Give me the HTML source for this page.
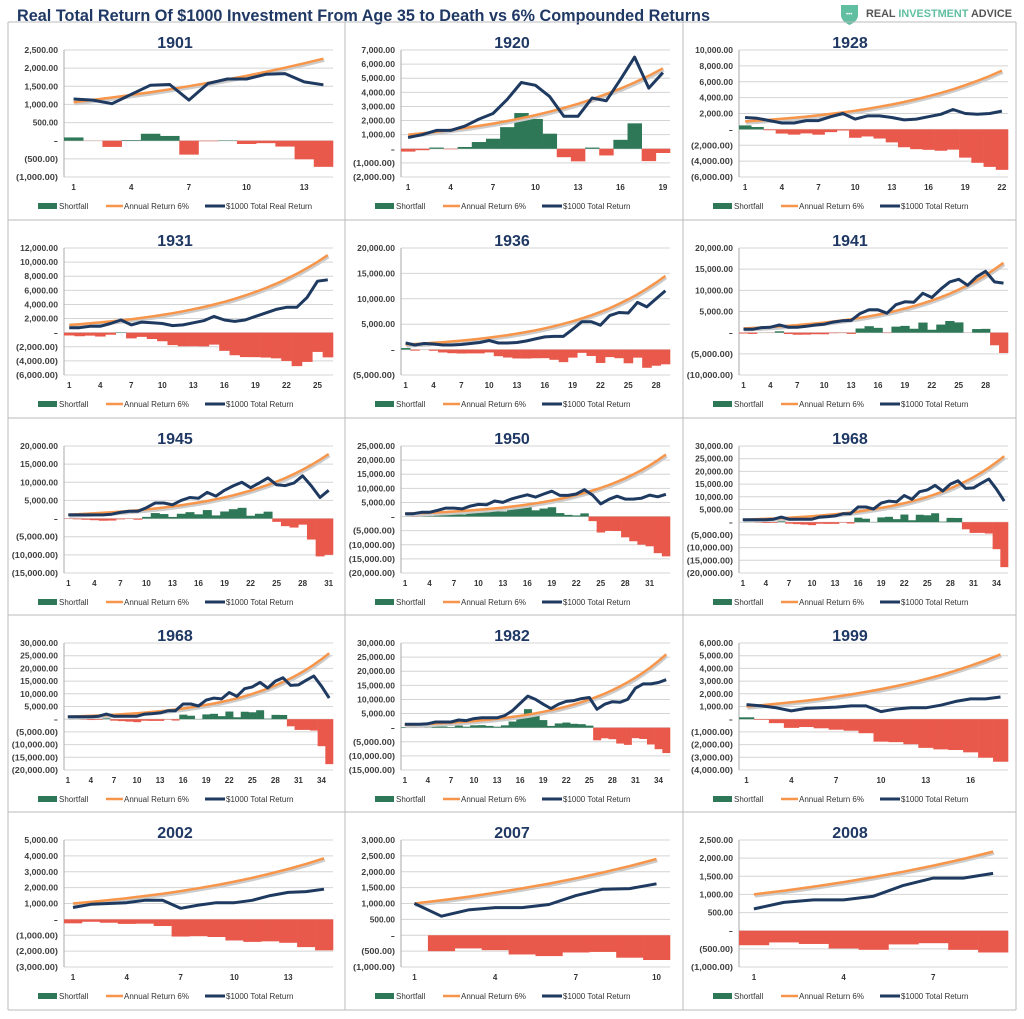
<!DOCTYPE html>
<html><head><meta charset="utf-8"><style>
html,body{margin:0;padding:0;background:#fff;}
svg text{font-family:"Liberation Sans",sans-serif;}
</style></head><body>
<svg id="s" width="1024" height="1014" xmlns="http://www.w3.org/2000/svg">
<rect width="1024" height="1014" fill="#fff"/>
<text x="17" y="21" font-size="17" font-weight="bold" fill="#1f3864" textLength="693" lengthAdjust="spacingAndGlyphs">Real Total Return Of $1000 Investment From Age 35 to Death vs 6% Compounded Returns</text>
<path d="M841 5 h17 v10 q0 6 -8.5 10 q-8.5 -4 -8.5 -10z" fill="#5fbfa0"/>
<text x="846" y="16" font-size="6" fill="#fff">•••</text>
<text x="866" y="17" font-size="11" font-weight="bold" fill="#555" textLength="146" lengthAdjust="spacingAndGlyphs">REAL <tspan fill="#5fbfa0">INVESTMENT</tspan> ADVICE</text>
<g id="g"></g>
</svg>
<script>
var C=[
["1901",-1000,2500,500,1060,2260,[1150,1120,1020,1280,1530,1550,1120,1580,1700,1700,1830,1850,1620,1540],1],
["1920",-2000,7000,1000,1000,5700,[800,1000,1300,1300,1600,2100,2500,3500,4700,4500,3700,2300,2300,3600,3400,4900,6500,4300,5400]],
["1928",-6000,10000,2000,1000,7400,[1500,1400,1100,800,800,1100,1100,1600,2000,1300,1700,1700,1500,1200,1300,1600,1900,2500,2000,1900,2000,2300]],
["1931",-6000,12000,2000,1100,11000,[700,700,900,900,1300,1800,1100,1500,1400,1300,1000,1100,1400,1700,2300,1800,1600,1800,2300,2800,3300,3600,3600,5000,7300,7500]],
["1936",-5000,20000,5000,1000,14500,[1300,900,1200,1100,900,900,1000,1200,1400,1800,1300,1300,1400,1700,2100,2500,2600,2600,4000,5500,5500,4800,6700,7300,7200,9300,8400,10000,11600]],
["1941",-10000,20000,5000,1000,16500,[800,800,1200,1300,1800,1300,1300,1500,1800,2000,2500,2800,2900,4500,5400,5400,4600,6600,7300,7200,9300,8300,10300,12000,12600,11200,13200,14500,12000,11700]],
["1945",-15000,20000,5000,1100,17800,[1000,1000,1000,1000,1000,1200,1700,2000,2000,3000,4300,4300,3800,5000,5800,5600,7200,6200,7800,9000,10000,8500,9800,11200,9300,9100,9800,11800,9000,5800,7800]],
["1950",-20000,25000,5000,1000,22000,[1000,1000,1500,1500,2200,3000,3000,2700,3700,4300,4200,5500,5000,6200,7000,7700,6900,8000,9000,7500,7500,8000,9500,7600,4500,6100,7200,6200,6200,6500,7600,7000,7900]],
["1968",-20000,30000,5000,1000,26000,[1000,1000,1000,1000,1200,2000,1200,1200,1200,1200,2000,2200,2500,3300,3300,6000,6000,5200,7500,8300,8000,10500,9000,12000,12700,14500,12300,15000,16300,13300,13500,15300,17000,13000,8300]],
["1968",-20000,30000,5000,1000,26000,[1000,1000,1000,1000,1200,2000,1200,1200,1200,1200,2000,2200,2500,3300,3300,6000,6000,5200,7500,8300,8000,10500,9000,12000,12700,14500,12300,15000,16300,13300,13500,15300,17000,13000,8300]],
["1982",-15000,30000,5000,1000,26000,[1200,1200,1200,1400,2000,2000,2000,2700,2500,3200,3500,3500,3500,4300,6000,8600,11200,10000,8300,6800,8300,9300,9600,10300,10700,6500,8300,9200,9000,10000,14000,15500,15500,16000,17000]],
["1999",-4000,6000,1000,1000,5100,[1150,1050,900,650,850,900,950,1050,1050,600,800,900,900,1100,1400,1600,1600,1750]],
["2002",-3000,5000,1000,1000,3850,[750,950,1000,1050,1200,1200,700,900,1050,1050,1200,1500,1700,1750,1900]],
["2007",-1000,3000,500,1000,2400,[1000,600,800,870,870,970,1250,1450,1470,1620]],
["2008",-1000,2500,500,1000,2180,[600,780,850,850,950,1250,1450,1450,1580]]
];
function fmt(v){if(v==0)return "-";var a=Math.abs(v).toLocaleString("en-US")+".00";return v<0?"("+a+")":a;}
var colX=[8,345,683],rowY=[22,220,418,615,812],h="";
h+='<g stroke="#bbb" stroke-width="1" fill="none">';
h+='<line x1="8" y1="22" x2="1016" y2="22"/><line x1="8" y1="1010" x2="1016" y2="1010"/>';
for(var i=0;i<3;i++)h+='<line x1="'+colX[i]+'" y1="22" x2="'+colX[i]+'" y2="1010"/>';
h+='<line x1="1016" y1="22" x2="1016" y2="1010"/>';
for(var i=1;i<5;i++)h+='<line x1="8" y1="'+rowY[i]+'" x2="1016" y2="'+rowY[i]+'"/>';
h+='</g>';
C.forEach(function(c,k){
 var px=colX[k%3],py=rowY[Math.floor(k/3)];
 var L=px+56,R=px+325,T=py+28,B=py+155,mn=c[1],mx=c[2],st=c[3],d=c[6],n=d.length;
 var Y=function(v){return T+(mx-v)/(mx-mn)*(B-T);};
 var w=(R-L)/n,X=function(i){return L+w*(i+0.5);};
 h+='<text x="'+(px+167)+'" y="'+(py+26)+'" font-size="16" font-weight="bold" fill="#1f3864" text-anchor="middle">'+c[0]+'</text>';
 for(var v=mn;v<=mx+1e-6;v+=st){var y=Y(v);
  h+='<line x1="'+L+'" y1="'+y+'" x2="'+R+'" y2="'+y+'" stroke="#d4d4d4" stroke-width="1"/>';
  h+='<text x="'+(L-6)+'" y="'+(y+3)+'" font-size="8" font-weight="bold" fill="#404040" text-anchor="end" textLength="'+(fmt(v).length*4.2)+'" lengthAdjust="spacingAndGlyphs">'+fmt(v)+'</text>';}
 h+='<line x1="'+L+'" y1="'+T+'" x2="'+L+'" y2="'+B+'" stroke="#aaa"/>';
 var r=Math.pow(c[5]/c[4],1/(n-1)),o=[];
 for(var i=0;i<n;i++)o.push(c[4]*Math.pow(r,i));
 var z=Y(0);
 for(var i=0;i<n;i++){var s=d[i]-o[i],y=Y(s);
  h+='<rect x="'+(L+w*i)+'" y="'+Math.min(y,z)+'" width="'+(w+0.3)+'" height="'+Math.abs(y-z)+'" fill="'+(s>=0?"#2e7858":"#e9594b")+'"/>';}
 var po="",pn="";
 for(var i=0;i<n;i++){po+=(i?"L":"M")+X(i).toFixed(1)+" "+Y(o[i]).toFixed(1);pn+=(i?"L":"M")+X(i).toFixed(1)+" "+Y(d[i]).toFixed(1);}
 h+='<path d="'+po+'" transform="translate(1,2)" stroke="#ccc" stroke-width="2.5" fill="none"/>';
 h+='<path d="'+po+'" stroke="#f7954a" stroke-width="2.5" fill="none"/>';
 h+='<path d="'+pn+'" stroke="#1f3a60" stroke-width="3" fill="none" stroke-linejoin="round"/>';
 for(var i=0;i<n;i+=3)h+='<text x="'+X(i)+'" y="'+(py+168)+'" font-size="8" font-weight="bold" fill="#333" text-anchor="middle">'+(i+1)+'</text>';
 var ly=py+186;
 h+='<rect x="'+(px+30)+'" y="'+(ly-5)+'" width="19" height="6" fill="#2e7858"/><text x="'+(px+51)+'" y="'+(ly+1)+'" font-size="8" fill="#333">Shortfall</text>';
 h+='<line x1="'+(px+98)+'" y1="'+(ly-2)+'" x2="'+(px+115)+'" y2="'+(ly-2)+'" stroke="#f7954a" stroke-width="2.5"/><text x="'+(px+116)+'" y="'+(ly+1)+'" font-size="8" fill="#333">Annual Return 6%</text>';
 h+='<line x1="'+(px+197)+'" y1="'+(ly-2)+'" x2="'+(px+217)+'" y2="'+(ly-2)+'" stroke="#1f3a60" stroke-width="3"/><text x="'+(px+218)+'" y="'+(ly+1)+'" font-size="8" fill="#333">'+(c[7]?"$1000 Total Real Return":"$1000 Total Return")+'</text>';
});
document.getElementById("g").innerHTML=h;
</script>
</body></html>
